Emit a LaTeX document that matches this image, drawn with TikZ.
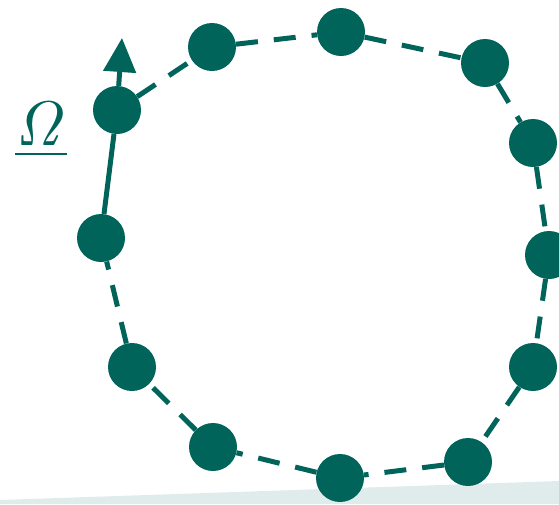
\documentclass[tikz,border=0pt]{standalone}
\usepackage{amsmath,amssymb}
\usepackage{xcolor}
\usetikzlibrary{arrows.meta}
\definecolor{ringteal}{RGB}{0,100,90}
\tikzset{
  bead/.style ={circle, fill=ringteal, inner sep=0pt, minimum size=48pt},
  link/.style ={draw=ringteal, line width=5pt, dash pattern=on 22pt off 16pt},
  bond/.style ={draw=ringteal, line width=5pt},
  ar/.style   ={-{Triangle[length=34pt,width=32pt]}, draw=ringteal, fill=ringteal, line width=5pt},
}
\begin{document}
\begin{tikzpicture}[x=1pt, y=-1pt]
\useasboundingbox (0,0) rectangle (559,504);
% floor band
\fill[ringteal!12] (0,500) -- (559,481) -- (559,504) -- (0,504) -- cycle;
% beads of the ring
\node[bead] (b1)  at (117,110) {};
\node[bead] (b2)  at (212,47)  {};
\node[bead] (b3)  at (341,32)  {};
\node[bead] (b4)  at (485,63)  {};
\node[bead] (b5)  at (533,143) {};
\node[bead] (b6)  at (549,255) {};
\node[bead] (b7)  at (533,367) {};
\node[bead] (b8)  at (468,462) {};
\node[bead] (b9)  at (340,478) {};
\node[bead] (b10) at (213,447) {};
\node[bead] (b11) at (132,367) {};
\node[bead] (b12) at (101,238) {};
\coordinate (tip) at (122,38);
\node[anchor=base, text=ringteal, inner sep=0pt, scale=6.3] (omega) at (41,145)
  {$\underline{\mathit{\Omega}}$};
\draw[link] (b1)--(b2); \draw[link] (b2)--(b3); \draw[link] (b3)--(b4);
\draw[link] (b4)--(b5); \draw[link] (b5)--(b6); \draw[link] (b6)--(b7);
\draw[link] (b7)--(b8); \draw[link] (b8)--(b9); \draw[link] (b9)--(b10);
\draw[link] (b10)--(b11); \draw[link] (b11)--(b12);
\draw[bond] (b12)--(b1);
\draw[ar] (b1)--(tip);
\end{tikzpicture}
\end{document}
